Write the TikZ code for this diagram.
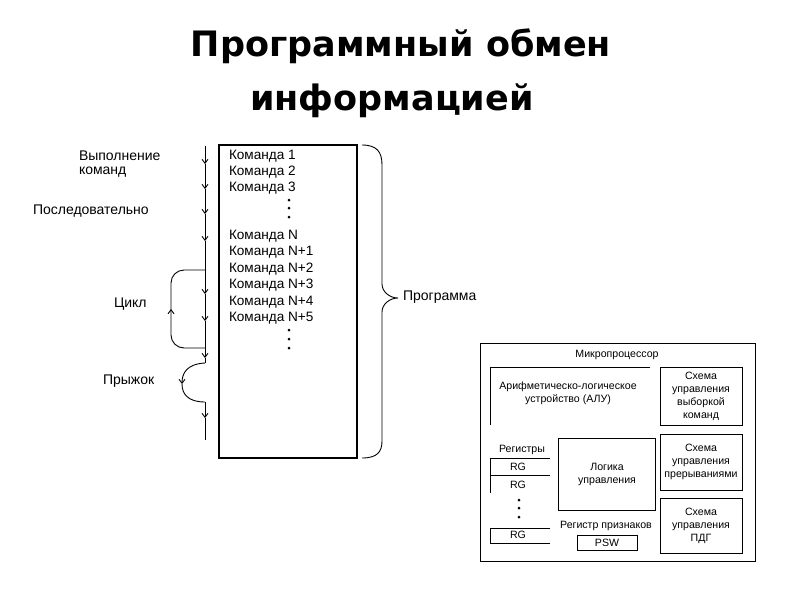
\documentclass[tikz,border=0pt]{standalone}
\usepackage{fontspec}
\setmainfont{Liberation Sans}
\newfontfamily\titlefont{DejaVu Sans}
\usetikzlibrary{arrows.meta,decorations.markings}
\begin{document}
\begin{tikzpicture}[x=1pt,y=-1pt,
  every node/.style={inner sep=0pt,outer sep=0pt},
  ttl/.style={font=\titlefont\bfseries\fontsize{35}{35}\selectfont},
  lbl/.style={font=\fontsize{14}{14}\selectfont,anchor=west},
  cmd/.style={font=\fontsize{13.6}{13.6}\selectfont,anchor=west},
  small/.style={font=\fontsize{10.6}{13}\selectfont,align=center},
  flow/.style={line width=0.9pt},
  tip/.style={-{Straight Barb[length=4pt,width=6pt]}},
  dot/.style={circle,fill=black,minimum size=3pt},
  thin/.style={line width=0.8pt},
  midarrow/.style={postaction={decorate},decoration={markings,mark=at position 0.5 with {\arrow{Straight Barb[length=4pt,width=6pt]}}}}
]
\useasboundingbox (0,0) rectangle (800,600);
% title
\node[ttl] (t1) at (401,46) {Программный обмен};
\node[ttl] (t2) at (392,101) {информацией};
% left labels
\node[lbl] (l1) at (79,156) {Выполнение};
\node[lbl] (l2) at (79,172) {команд};
\node[lbl] (l3) at (33,211) {Последовательно};
\node[lbl] (l4) at (114,304) {Цикл};
\node[lbl] (l5) at (103,381) {Прыжок};
% flow line coordinates
\coordinate (p0) at (205,146);
\coordinate (a1) at (205,164);
\coordinate (a2) at (205,189);
\coordinate (a3) at (205,214);
\coordinate (a4) at (205,241);
\coordinate (c1) at (205,270);
\coordinate (a5) at (205,294);
\coordinate (a6) at (205,321);
\coordinate (c2) at (205,348);
\coordinate (a7) at (205,358);
\coordinate (j1) at (205,363);
\coordinate (j2) at (182,384);
\coordinate (j3) at (205,402);
\coordinate (a8) at (205,418);
\coordinate (pe) at (205,440);
\draw[flow,tip] (p0) -- (a1);
\draw[flow,tip] (a1) -- (a2);
\draw[flow,tip] (a2) -- (a3);
\draw[flow,tip] (a3) -- (a4);
\draw[flow] (a4) -- (c1);
\draw[flow,tip] (c1) -- (a5);
\draw[flow,tip] (a5) -- (a6);
\draw[flow] (a6) -- (c2);
\draw[flow,tip] (c2) -- (a7);
\draw[flow] (a7) -- (j1);
% loop
\draw[flow,midarrow,rounded corners=13pt] (c2) -- (171,348) -- (171,270) -- (c1);
% jump
\draw[flow,tip] (j1) .. controls (186,364) and (182,374) .. (j2);
\draw[flow] (j2) .. controls (182,394) and (188,402) .. (j3);
\draw[flow,tip] (j3) -- (a8);
\draw[flow] (a8) -- (pe);
% program box
\node[draw,line width=2pt,minimum width=138pt,minimum height=313pt] (prog) at (287.5,301) {};
\node[cmd] (k1) at (229,156) {Команда 1};
\node[cmd] (k2) at (229,172) {Команда 2};
\node[cmd] (k3) at (229,188) {Команда 3};
\node[dot] (d1) at (289,200) {};
\node[dot] (d2) at (289,208) {};
\node[dot] (d3) at (289,217) {};
\node[cmd] (k4) at (229,236) {Команда N};
\node[cmd] (k5) at (229,252) {Команда N+1};
\node[cmd] (k6) at (229,269) {Команда N+2};
\node[cmd] (k7) at (229,285) {Команда N+3};
\node[cmd] (k8) at (229,302) {Команда N+4};
\node[cmd] (k9) at (229,318) {Команда N+5};
\node[dot] (d4) at (289,330) {};
\node[dot] (d5) at (289,339) {};
\node[dot] (d6) at (289,348) {};
% brace
\coordinate (b0) at (362,145);
\coordinate (bt) at (398,298);
\coordinate (b1) at (362,458);
\draw[flow] (b0) .. controls (377,145) and (382,152) .. (382,165) -- (382,284)
  .. controls (382,292) and (390,298) .. (bt)
  .. controls (390,298) and (382,304) .. (382,312) -- (382,441)
  .. controls (382,452) and (377,458) .. (b1);
\node[lbl] (prg) at (403,297) {Программа};
% microprocessor
\node[draw,thin,minimum width=275pt,minimum height=218pt] (mp) at (617.5,452) {};
\node[small] (mpt) at (617,355) {Микропроцессор};
\coordinate (alu1) at (650,367);
\coordinate (alu2) at (490,367);
\coordinate (alu3) at (490,425);
\draw[thin] (alu1) -- (alu2) -- (alu3);
\node[small] (alut) at (568,393) {Арифметическо-логическое\\устройство (АЛУ)};
\node[draw,thin,minimum width=82pt,minimum height=58pt] (s1) at (701,396) {};
\node[small] at (s1) {Схема\\управления\\выборкой\\команд};
\node[draw,thin,minimum width=82pt,minimum height=56pt] (s2) at (701,462) {};
\node[small] at (s2) {Схема\\управления\\прерываниями};
\node[draw,thin,minimum width=82pt,minimum height=55pt] (s3) at (701,526) {};
\node[small] at (s3) {Схема\\управления\\ПДГ};
\node[draw,thin,minimum width=97pt,minimum height=72pt] (lg) at (607,474) {};
\node[small] at (lg) {Логика\\управления};
\node[small] (reg) at (522,450) {Регистры};
\coordinate (r1) at (550,458);
\coordinate (r2) at (490,458);
\coordinate (r3) at (490,493);
\coordinate (r4) at (550,475);
\coordinate (r5) at (490,475);
\draw[thin] (r1) -- (r2) -- (r3);
\draw[thin] (r4) -- (r5);
\node[small] (rg1) at (518,467) {RG};
\node[small] (rg2) at (518,485) {RG};
\node[dot,minimum size=3pt] at (519,500) {};
\node[dot,minimum size=3pt] at (519,508) {};
\node[dot,minimum size=3pt] at (519,517) {};
\coordinate (q1) at (550,528);
\coordinate (q2) at (490,528);
\coordinate (q3) at (490,543);
\coordinate (q4) at (550,543);
\draw[thin] (q1) -- (q2) -- (q3) -- (q4);
\node[small] (rg3) at (518,535) {RG};
\node[small] (prz) at (606,526) {Регистр признаков};
\node[draw,thin,minimum width=60pt,minimum height=15pt] (psw) at (607,543) {};
\node[small] at (psw) {PSW};
\end{tikzpicture}
\end{document}
